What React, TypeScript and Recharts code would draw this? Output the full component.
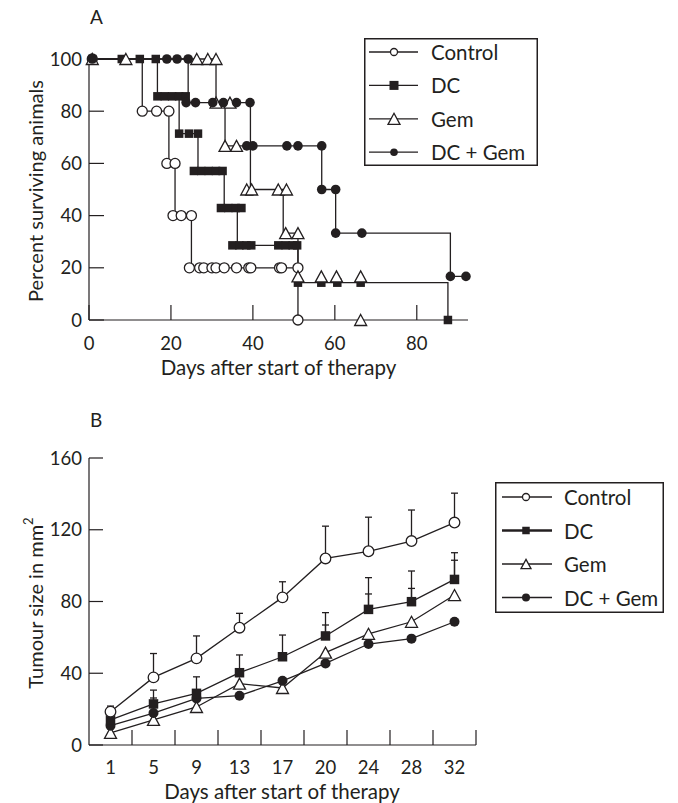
import React from 'react';
import { ComposedChart, LineChart, Line, Scatter, XAxis, YAxis, Legend, ErrorBar } from 'recharts';

const INK = '#231f20';
const FONT = 'Lato, "DejaVu Sans", sans-serif';

// ---------- Panel A: survival (day, percent) ----------
const controlSteps = [[0, 100], [13, 80], [19.5, 60], [21, 40], [25, 20], [51, 0]];
const controlMarks = [[0.8, 100], [13, 80], [16.5, 80], [19.5, 80], [19, 60], [21, 60], [20.5, 40], [22.5, 40], [25, 40], [24.5, 20], [27, 20], [28, 20], [30, 20], [31, 20], [33, 20], [36, 20], [39, 20], [39.5, 20], [46.5, 20], [47, 20], [51, 20], [51, 0]];

const dcSteps = [[0, 100], [16.7, 85.7], [22, 71.4], [26.6, 57.1], [33, 42.9], [36.2, 28.6], [51, 14.3], [87.6, 0]];
const dcMarks = [[0.8, 100], [8, 100], [12.4, 100], [16.3, 100], [16.7, 85.7], [18.5, 85.7], [20.3, 85.7], [22, 85.7], [23.6, 85.7], [22, 71.4], [24.4, 71.4], [26.6, 71.4], [25.6, 57.1], [27.4, 57.1], [29.2, 57.1], [31, 57.1], [32.6, 57.1], [32.2, 42.9], [34, 42.9], [35.8, 42.9], [37.2, 42.9], [35, 28.6], [36.7, 28.6], [38.4, 28.6], [39.6, 28.6], [46.2, 28.6], [48, 28.6], [49.7, 28.6], [50.8, 28.6], [51, 14.3], [56.7, 14.3], [60.6, 14.3], [66.3, 14.3], [87.6, 0]];

const gemSteps = [[0, 100], [31, 83.3], [33.2, 66.7], [39.4, 50], [47.4, 33.3], [51, 16.7]];
const gemMarks = [[0.8, 100], [9, 100], [26.3, 100], [29, 100], [31, 100], [31, 83.3], [34.4, 83.3], [33.2, 66.7], [36, 66.7], [38.5, 50], [39.7, 50], [46.2, 50], [48.2, 50], [48, 33.3], [51, 33.3], [51, 16.7], [56.7, 16.7], [60.4, 16.7], [66.3, 16.7], [66.3, 0]];

const dcGemSteps = [[0, 100], [24.2, 83.3], [39.4, 66.7], [56.8, 50], [60.2, 33.3], [88.2, 16.7], [92, 16.7]];
const dcGemMarks = [[0.8, 100], [19, 100], [21.5, 100], [24.2, 100], [23.7, 83.3], [26, 83.3], [30.2, 83.3], [32.8, 83.3], [36, 83.3], [39.3, 83.3], [38.5, 66.7], [40, 66.7], [48.3, 66.7], [51, 66.7], [56.8, 66.7], [56.8, 50], [60.2, 50], [60.2, 33.3], [66.6, 33.3], [88.2, 16.7], [92, 16.7]];

const survXTicks = [0, 20, 40, 60, 80];
const survYTicks = [0, 20, 40, 60, 80, 100];

// ---------- Panel B: tumour size ----------
const tumourDays = ['1', '5', '9', '13', '17', '20', '24', '28', '32'];
const controlSize = [18.6, 37.7, 48.3, 65.4, 82.3, 104, 108, 113.7, 124];
const controlSd = [3.1, 13.3, 12.5, 8, 8.7, 18, 19, 17.3, 16.4];
const dcSize = [14, 22.9, 28.8, 40.3, 49.2, 60.8, 75.6, 79.9, 92.3];
const dcSd = [7, 7.7, 9.2, 9.9, 12.1, 13, 17.7, 17.1, 14.9];
const dcSdInner: (number | null)[] = [null, 3.3, null, null, null, 6.1, 8.6, 7.4, 10.7];
const gemSize = [6.8, 14, 21.2, 34.2, 31.8, 51.5, 62, 68.7, 83.6];
const dcGemSize = [10.8, 17.8, 26, 27.5, 35.8, 45.5, 56.3, 59.3, 68.7];
const tumourYTicks = [0, 40, 80, 120, 160];

const seriesNames = ['Control', 'DC', 'Gem', 'DC + Gem'];

const pts = (a: number[][]) => a.map(([x, y]) => ({ x, y }));

const tumourRows = tumourDays.map((d, i) => ({
  idx: i + 1,
  day: d,
  control: controlSize[i],
  controlErr: [0, controlSd[i]],
  dc: dcSize[i],
  dcErr: [0, dcSd[i]],
  dcErrInner: dcSdInner[i] == null ? null : [0, dcSdInner[i] as number],
  gem: gemSize[i],
  dcGem: dcGemSize[i],
}));
const tumourXTicks: number[] = [];
tumourDays.forEach((_, i) => { tumourXTicks.push(i + 1); tumourXTicks.push(i + 1.5); });

// ---------- markers ----------
type MP = { cx: number; cy: number; s?: number };
const OpenCircle = ({ cx, cy, s = 5 }: MP) => <circle cx={cx} cy={cy} r={s} fill="#fff" stroke={INK} strokeWidth={1.3} />;
const FilledSquare = ({ cx, cy, s = 9 }: MP) => <rect x={cx - s / 2} y={cy - s / 2} width={s} height={s} fill={INK} />;
const OpenTriangle = ({ cx, cy, s = 12 }: MP) => {
  const h = s * 0.92;
  return <polygon points={`${cx},${cy - h / 2} ${cx + s / 2},${cy + h / 2} ${cx - s / 2},${cy + h / 2}`} fill="#fff" stroke={INK} strokeWidth={1.3} strokeLinejoin="miter" />;
};
const FilledCircle = ({ cx, cy, s = 5 }: MP) => <circle cx={cx} cy={cy} r={s} fill={INK} />;
const markerOf = [OpenCircle, FilledSquare, OpenTriangle, FilledCircle];

const dotFn = (k: number, s?: number) => (p: any) => {
  if (p.cx == null || p.cy == null) return <g key={`d${k}-${p.index}`} />;
  const M = markerOf[k];
  return <g key={`d${k}-${p.index}`}><M cx={p.cx} cy={p.cy} s={s} /></g>;
};

// ---------- legend ----------
const LegendBox = ({ w, h, firstY, step, lineX0, lineX1, markX, textX, sizes, lineWidths }: any) => (
  <svg width={w} height={h} style={{ display: 'block' }}>
    <rect x={0.75} y={0.75} width={w - 1.5} height={h - 1.5} fill="#fff" stroke={INK} strokeWidth={1.5} />
    {seriesNames.map((name, i) => {
      const cy = firstY + i * step;
      const M = markerOf[i];
      return (
        <g key={name}>
          <line x1={lineX0} x2={lineX1} y1={cy} y2={cy} stroke={INK} strokeWidth={lineWidths[i]} />
          <M cx={markX} cy={cy} s={sizes[i]} />
          <text x={textX} y={cy} dominantBaseline="central" fontSize={20.5} fill={INK} fontFamily={FONT}>{name}</text>
        </g>
      );
    })}
  </svg>
);

const tickStyle = { fill: INK, fontSize: 18, fontFamily: FONT };

const YTitle = ({ cy, children }: any) => (
  <text x={35} y={cy} transform={`rotate(-90 35 ${cy})`} textAnchor="middle" dominantBaseline="central" fontSize={20} fill={INK} fontFamily={FONT}>{children}</text>
);
const XTitle = ({ cx, y, children }: any) => (
  <text x={cx} y={y} textAnchor="middle" dominantBaseline="central" fontSize={20.5} fill={INK} fontFamily={FONT}>{children}</text>
);

const TumourTick = (props: any) => {
  const { x, y, payload } = props;
  const v = payload.value;
  if (Number.isInteger(v)) {
    return <text x={x} y={y} dy="0.71em" textAnchor="middle" fill={INK} fontSize={18.5} fontFamily={FONT}>{tumourDays[v - 1]}</text>;
  }
  return <line x1={x} x2={x} y1={y - 16} y2={y - 31} stroke={INK} strokeWidth={1.2} />;
};

const survSteps = [controlSteps, dcSteps, gemSteps, dcGemSteps];
const survMarks = [controlMarks, dcMarks, gemMarks, dcGemMarks];
const survMarkSize = [5, 8.5, 12, 4.8];

export default function App() {
  return (
    <div style={{ position: 'absolute', left: 0, top: 0, width: 678, height: 803, fontFamily: FONT, color: INK, background: '#fff' }}>
      <div style={{ position: 'absolute', left: 90, top: 6, fontSize: 19, lineHeight: 1.2 }}>A</div>
      <div style={{ position: 'absolute', left: 0, top: 0 }}>
        <ComposedChart width={678} height={400} margin={{ top: 59, right: 210, bottom: 50, left: 29 }}>
          <XAxis
            type="number"
            dataKey="x"
            domain={[0, 92.5]}
            ticks={survXTicks}
            interval={0}
            height={30}
            tickSize={-15}
            tickMargin={32}
            tick={{ ...tickStyle, fontSize: 18.5 }}
            stroke={INK}
            strokeWidth={1.2}
            label={{ content: () => <XTitle cx={278.5} y={367}>Days after start of therapy</XTitle> }}
          />
          <YAxis
            type="number"
            dataKey="y"
            domain={[0, 100]}
            ticks={survYTicks}
            interval={0}
            width={60}
            tickSize={-15}
            tickMargin={22}
            tick={{ ...tickStyle, fontSize: 18.5 }}
            stroke={INK}
            strokeWidth={1.2}
            label={{ content: () => <YTitle cy={191}>Percent surviving animals</YTitle> }}
          />
          {survSteps.map((s, i) => (
            <Line key={`l${i}`} data={pts(s)} dataKey="y" type="stepAfter" stroke={INK} strokeWidth={1.3} dot={false} activeDot={false} isAnimationActive={false} name={seriesNames[i]} />
          ))}
          {survMarks.map((m, i) => {
            const M = markerOf[i];
            return (
              <Scatter key={`s${i}`} data={pts(m)} dataKey="y" legendType="none" isAnimationActive={false}
                shape={(p: any) => <M cx={p.cx} cy={p.cy} s={survMarkSize[i]} />} />
            );
          })}
          <Legend layout="horizontal" align="center" verticalAlign="middle" width={174} height={128}
            wrapperStyle={{ left: 364, top: 38, width: 174, height: 128 }}
            content={() => <LegendBox w={174} h={128} firstY={14} step={33.4} lineX0={5} lineX1={54} markX={30} textX={67} sizes={[3.5, 9, 12, 3.8]} lineWidths={[1.3, 1.3, 1.3, 1.3]} />} />
        </ComposedChart>
      </div>

      <div style={{ position: 'absolute', left: 90, top: 409, fontSize: 19, lineHeight: 1.2 }}>B</div>
      <div style={{ position: 'absolute', left: 0, top: 400 }}>
        <LineChart width={678} height={403} data={tumourRows} margin={{ top: 58, right: 202, bottom: 28, left: 29 }}>
          <XAxis
            type="number"
            dataKey="idx"
            domain={[0.5, 9.5]}
            ticks={tumourXTicks}
            interval={0}
            height={30}
            tickSize={0}
            tickLine={false}
            tickMargin={16}
            tick={<TumourTick />}
            stroke={INK}
            strokeWidth={1.2}
            label={{ content: () => <XTitle cx={282} y={391}>Days after start of therapy</XTitle> }}
          />
          <YAxis
            type="number"
            domain={[0, 160]}
            ticks={tumourYTicks}
            interval={0}
            width={60}
            tickSize={-14}
            tickMargin={21}
            tick={{ ...tickStyle, fontSize: 18.5 }}
            stroke={INK}
            strokeWidth={1.2}
            label={{ content: () => <YTitle cy={203}>Tumour size in mm<tspan dy={-7} fontSize={13}>2</tspan></YTitle> }}
          />
          <Line dataKey="gem" name="Gem" stroke={INK} strokeWidth={1.3} dot={dotFn(2, 12)} activeDot={false} isAnimationActive={false} />
          <Line dataKey="dcGem" name="DC + Gem" stroke={INK} strokeWidth={1.3} dot={dotFn(3, 5)} activeDot={false} isAnimationActive={false} />
          <Line dataKey="dc" name="DC" stroke={INK} strokeWidth={1.3} dot={dotFn(1, 9.5)} activeDot={false} isAnimationActive={false}>
            <ErrorBar dataKey="dcErr" direction="y" width={3.5} stroke={INK} strokeWidth={1.3} />
            <ErrorBar dataKey="dcErrInner" direction="y" width={3.5} stroke={INK} strokeWidth={1.3} />
          </Line>
          <Line dataKey="control" name="Control" stroke={INK} strokeWidth={1.3} dot={dotFn(0, 5.3)} activeDot={false} isAnimationActive={false}>
            <ErrorBar dataKey="controlErr" direction="y" width={3.5} stroke={INK} strokeWidth={1.3} />
          </Line>
          <Legend layout="horizontal" align="center" verticalAlign="middle" width={169} height={131}
            wrapperStyle={{ left: 495, top: 82, width: 169, height: 131 }}
            content={() => <LegendBox w={169} h={131} firstY={15} step={33.5} lineX0={7} lineX1={57} markX={31} textX={69} sizes={[3.5, 7.5, 10, 4]} lineWidths={[1.3, 2.6, 1.3, 1.3]} />} />
        </LineChart>
      </div>
    </div>
  );
}
